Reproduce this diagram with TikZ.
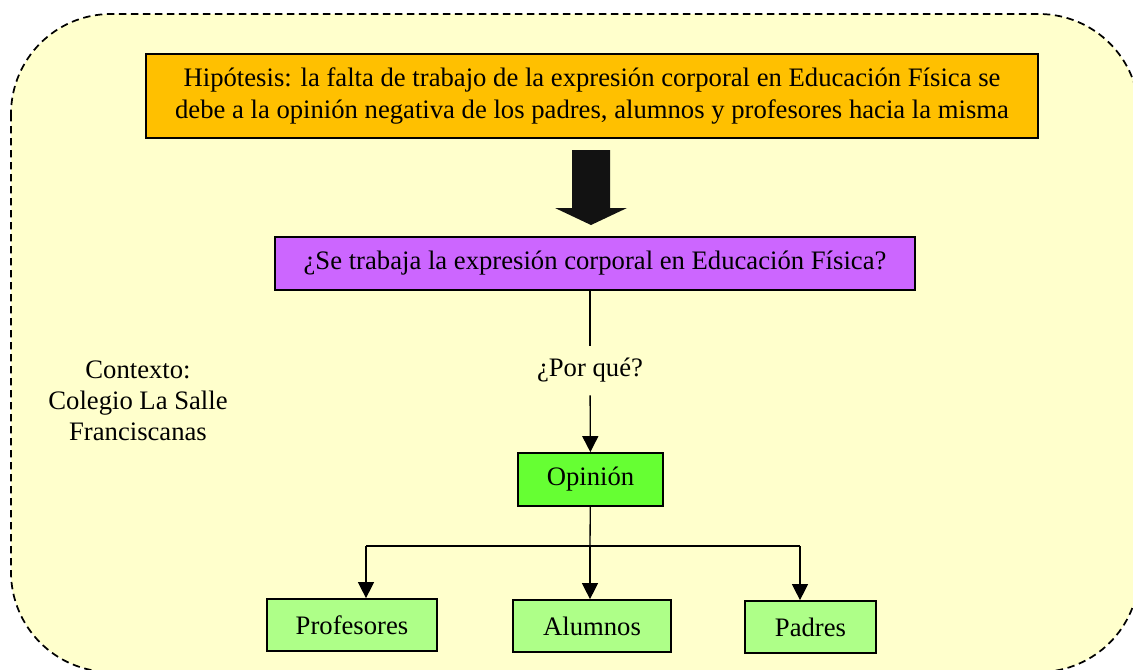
\documentclass[tikz,border=0pt]{standalone}
\usepackage{fontspec}
\setmainfont{Liberation Serif}
\usetikzlibrary{arrows.meta}
\definecolor{fondo}{HTML}{FFFFCC}
\definecolor{naranja}{HTML}{FFC000}
\definecolor{lila}{HTML}{CC66FF}
\definecolor{verde}{HTML}{66FF33}
\definecolor{verdeclaro}{HTML}{AEFF88}
\begin{document}
\begin{tikzpicture}[x=0.75pt,y=-0.75pt,font=\fontsize{20}{23.3}\selectfont,
  caja/.style={draw,line width=1.3pt,inner sep=0pt,align=center},
  flecha/.style={line width=1pt,-{Triangle[width=12pt,length=12pt]}}]
\useasboundingbox (0,0) rectangle (1133,669);
\clip (0,0) rectangle (1133,669);
\draw [fill=fondo,dash pattern=on 5.5pt off 3.5pt,line width=1.3pt,rounded corners=75pt] (11,14) rectangle (1139,672);

\node (hipotesis) [caja,fill=naranja,minimum width=669pt,minimum height=63pt] at (592,96) {Hipótesis: la falta de trabajo de la expresión corporal en Educación Física se\\debe a la opinión negativa de los padres, alumnos y profesores hacia la misma};
\fill [black!93] (572,150) -- (610,150) -- (610,208) -- (627,208) -- (591,225) -- (555,208) -- (572,208) -- cycle;

\node (pregunta) [caja,fill=lila,minimum width=480pt,minimum height=39.75pt] at (595,263.5) {¿Se trabaja la expresión corporal en Educación Física?};
\node (porque) [inner sep=0pt,minimum height=36.75pt] at (590,370.5) {¿Por qué?};
\node (contexto) [align=center] at (138,401) {Contexto:\\Colegio La Salle\\Franciscanas};
\node (opinion) [caja,fill=verde,minimum width=108.75pt,minimum height=39.75pt] at (590.5,479.5) {Opinión};

\node (profesores) [caja,fill=verdeclaro,minimum width=127.5pt,minimum height=39pt] at (352,625) {Profesores};
\node (alumnos) [caja,fill=verdeclaro,minimum width=118.5pt,minimum height=39pt] at (592,626) {Alumnos};
\node (padres) [caja,fill=verdeclaro,minimum width=98.25pt,minimum height=39pt] at (810.5,627) {Padres};

\draw [line width=1pt] (pregunta.south -| porque) -- (porque);
\draw [flecha] (porque) -- (opinion);
\coordinate (reparto) at (590,546);
\coordinate (izq) at (366,546);
\coordinate (der) at (800,546);
\draw [line width=1pt] (opinion) -- (reparto);
\draw [line width=1pt] (izq) -- (der);
\draw [flecha] (izq) -- (izq |- profesores.north);
\draw [flecha] (reparto) -- (reparto |- alumnos.north);
\draw [flecha] (der) -- (der |- padres.north);
\end{tikzpicture}
\end{document}
